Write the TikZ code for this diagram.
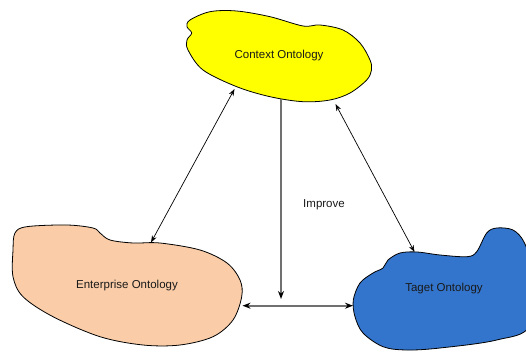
\documentclass[tikz,border=0pt]{standalone}
\usepackage{fontspec}
\setmainfont{Liberation Sans}
\usepackage{xcolor}
\usetikzlibrary{arrows.meta}

\definecolor{ctxyellow}{RGB}{255,255,0}
\definecolor{entpeach}{RGB}{250,205,168}
\definecolor{tgtblue}{RGB}{51,117,204}
\definecolor{linkgray}{RGB}{112,112,112}

\tikzset{
  blob/.style={draw=black,line width=0.8pt},
  label/.style={font=\fontsize{11.5}{13}\selectfont,text=black!90},
  link/.style={{Stealth[length=7pt,width=5pt]}-{Stealth[length=7pt,width=5pt]},line width=0.7pt},
  improve/.style={-{Stealth[length=8pt,width=6pt,color=black]},line width=1.7pt,draw=linkgray},
  dbl/.style={{Stealth[length=8pt,width=6pt,color=black]}-{Stealth[length=8pt,width=6pt,color=black]},line width=1.7pt,draw=linkgray}
}

\begin{document}
\begin{tikzpicture}[x=1pt,y=-1pt]
\useasboundingbox (0,0) rectangle (526,352);

% Context ontology (yellow blob)
\draw[blob,fill=ctxyellow] plot[smooth cycle,tension=0.55] coordinates {
  (190,20) (210,11.7) (236.7,11) (270,16.7) (303,26) (320,25) (343,30)
  (360,43) (370,60) (371.5,70) (366.7,80) (350,93) (330,100) (303,101.7)
  (270,96.7) (236.7,86.7) (203,70) (188,50) (187,40) (191.7,33) (187,26.7)};

% Enterprise ontology (peach blob)
\draw[blob,fill=entpeach] plot[smooth cycle,tension=0.55] coordinates {
  (15,233) (26.7,226.7) (66.7,225) (93,228) (100,233) (110,240) (133,243)
  (160,243) (200,250) (227,263) (240,280) (241.7,296.7) (233,320)
  (213,336.7) (180,345) (143,345) (100,336.7) (53,316.7) (23,296.7)
  (13,276.7) (13,250)};

% Target ontology (blue blob, cut at the right edge)
\draw[blob,fill=tgtblue] plot[smooth cycle,tension=0.55] coordinates {
  (353.3,300) (360,283) (373,273) (383,268) (388,260) (400,253) (417,252)
  (440,255) (467,256.7) (476.7,251.7) (486.7,233) (496.7,228) (513,230)
  (524,242) (530,265) (530,325) (496.7,340) (440,348) (406.7,350)
  (383,346.7) (363,333) (355,316.7)};

% Labels
\node[label] (ctx) at (279,56) {Context Ontology};
\node[label] (ent) at (127,286) {Enterprise Ontology};
\node[label] (tgt) at (444,289) {Taget Ontology};
\node[label] (imp) at (324,205) {Improve};

% Arrow end points on the blobs
\coordinate (ctxL) at (234.5,89);
\coordinate (entT) at (151,242.5);
\coordinate (ctxR) at (335.5,104);
\coordinate (tgtT) at (414.5,252);
\coordinate (ctxB) at (281,99.5);
\coordinate (impE) at (281,299);
\coordinate (entR) at (242.5,305.7);
\coordinate (tgtL) at (353,305.7);

% Arrows
\draw[link] (ctxL) -- (entT);
\draw[link] (ctxR) -- (tgtT);
\draw[improve] (ctxB) -- (impE);
\draw[dbl] (entR) -- (tgtL);
\end{tikzpicture}
\end{document}
